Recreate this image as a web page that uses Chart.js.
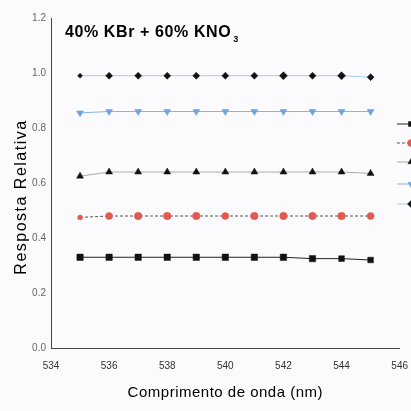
<!DOCTYPE html>
<html lang="pt-BR">
<head>
    <meta charset="UTF-8">
    <title>Resposta Relativa - 40% KBr + 60% KNO3</title>
    <style>
        html, body { margin: 0; padding: 0; background: #fbfbfd; overflow: hidden; }
    </style>
</head>
<body>
    <canvas id="grafico" width="411" height="411"></canvas>

    <script src="https://cdn.jsdelivr.net/npm/chart.js"></script>
    <script>
        // Comprimentos de onda (nm)
        const comprimentos = [535, 536, 537, 538, 539, 540, 541, 542, 543, 544, 545];

        // Respostas relativas de cada série
        const serieQuadrado = [0.33, 0.33, 0.33, 0.33, 0.33, 0.33, 0.33, 0.33, 0.325, 0.325, 0.32];
        const serieCirculo = [0.475, 0.48, 0.48, 0.48, 0.48, 0.48, 0.48, 0.48, 0.48, 0.48, 0.48];
        const serieTriangulo = [0.625, 0.64, 0.64, 0.64, 0.64, 0.64, 0.64, 0.64, 0.64, 0.64, 0.635];
        const serieTrianguloInv = [0.855, 0.86, 0.86, 0.86, 0.86, 0.86, 0.86, 0.86, 0.86, 0.86, 0.86];
        const serieLosango = [0.99, 0.99, 0.99, 0.99, 0.99, 0.99, 0.99, 0.99, 0.99, 0.99, 0.985];

        const ticksX = [534, 536, 538, 540, 542, 544, 546];
        const ticksY = [0.0, 0.2, 0.4, 0.6, 0.8, 1.0, 1.2];

        const fonte = '"Liberation Sans", Arial, sans-serif';

        function pontos(valores) {
            return valores.map((v, i) => ({ x: comprimentos[i], y: v }));
        }

        const series = [
            { dados: serieQuadrado, forma: 'rect', cor: '#111', linha: '#222', tam: [4.5, 4.5, 4.5, 4.5, 4.5, 4.5, 4.5, 4.5, 4.5, 4, 4], rot: 0, traco: [] },
            { dados: serieCirculo, forma: 'circle', cor: '#e05a52', linha: '#555', tam: [2.5, 3.5, 3.8, 3.8, 3.8, 3.5, 3.8, 3.8, 3.8, 3.8, 3.5], rot: 0, traco: [3, 2] },
            { dados: serieTriangulo, forma: 'triangle', cor: '#111', linha: '#aaa', tam: 4, rot: 0, traco: [] },
            { dados: serieTrianguloInv, forma: 'triangle', cor: '#6fa3e0', linha: '#8ab4e0', tam: 4, rot: 180, traco: [] },
            { dados: serieLosango, forma: 'rectRot', cor: '#111', linha: '#a8cde8', tam: [2.5, 3.5, 3.5, 3.5, 3.5, 3.5, 3.5, 4, 3.5, 4, 3.5], rot: 0, traco: [] }
        ];

        const datasets = series.map(s => ({
            data: pontos(s.dados),
            showLine: true,
            borderColor: s.linha,
            borderWidth: 1,
            borderDash: s.traco,
            pointStyle: s.forma,
            pointRotation: s.rot,
            pointRadius: s.tam,
            pointBackgroundColor: s.cor,
            pointBorderColor: s.cor,
            pointBorderWidth: 0.5,
            tension: 0
        }));

        // Textos: título interno (com subscrito) e títulos dos eixos
        const textosPlugin = {
            id: 'textos',
            afterDraw(chart) {
                const ctx = chart.ctx;
                const area = chart.chartArea;
                ctx.save();
                ctx.fillStyle = '#000';

                ctx.textBaseline = 'alphabetic';
                ctx.textAlign = 'left';
                ctx.font = 'bold 16px ' + fonte;
                ctx.letterSpacing = '0.6px';
                const texto = '40% KBr + 60% KNO';
                ctx.fillText(texto, 65, 37);
                const w = ctx.measureText(texto).width;
                ctx.font = 'bold 9px ' + fonte;
                ctx.fillText('3', 65 + w + 2, 42);

                ctx.textAlign = 'center';
                ctx.textBaseline = 'middle';
                ctx.font = '15px ' + fonte;
                ctx.letterSpacing = '0.5px';
                ctx.fillText('Comprimento de onda (nm)', (area.left + area.right) / 2, 393);

                ctx.translate(22, 197);
                ctx.rotate(-Math.PI / 2);
                ctx.font = '16px ' + fonte;
                ctx.letterSpacing = '1.5px';
                ctx.fillText('Resposta Relativa', 0, 0);
                ctx.restore();
            }
        };

        // Legenda à direita (parte fica fora do quadro)
        const legendaPlugin = {
            id: 'legendaLateral',
            afterDraw(chart) {
                const ctx = chart.ctx;
                const ys = [124, 143, 162, 184, 204];
                ctx.save();
                series.forEach((s, i) => {
                    ctx.strokeStyle = s.linha;
                    ctx.lineWidth = 1;
                    ctx.setLineDash(s.traco);
                    ctx.beginPath();
                    ctx.moveTo(397, ys[i]);
                    ctx.lineTo(424, ys[i]);
                    ctx.stroke();
                    ctx.setLineDash([]);
                    ctx.fillStyle = s.cor;
                    ctx.strokeStyle = s.cor;
                    ctx.lineWidth = 0.5;
                    Chart.helpers.drawPoint(ctx, { pointStyle: s.forma, rotation: s.rot, radius: 3.5, borderWidth: 0.5 }, 411, ys[i]);
                });
                ctx.restore();
            }
        };

        const ctx = document.getElementById('grafico').getContext('2d');
        new Chart(ctx, {
            type: 'scatter',
            data: { datasets },
            options: {
                responsive: false,
                animation: false,
                devicePixelRatio: 1,
                layout: { padding: { top: 18, right: 0, left: 0, bottom: 0 } },
                plugins: { legend: { display: false }, tooltip: { enabled: false } },
                scales: {
                    x: {
                        type: 'linear',
                        min: 534,
                        max: 546,
                        afterBuildTicks: scale => {
                            scale.ticks = [];
                            for (let v = 534; v <= 546; v++) scale.ticks.push({ value: v });
                        },
                        afterFit: scale => { scale.height = 63; },
                        grid: { display: false, drawTicks: true, tickLength: 3, tickColor: '#999' },
                        border: { color: '#444', width: 1 },
                        ticks: {
                            autoSkip: false,
                            maxRotation: 0,
                            padding: 3,
                            color: '#333',
                            font: { family: fonte, size: 10, lineHeight: 2.4 },
                            callback: v => ticksX.includes(v) ? String(v) : ''
                        }
                    },
                    y: {
                        min: 0,
                        max: 1.2,
                        afterBuildTicks: scale => {
                            scale.ticks = [];
                            for (let v = 0; v <= 12; v++) scale.ticks.push({ value: v / 10 });
                        },
                        afterFit: scale => { scale.width = 51; },
                        grid: { display: false, drawTicks: true, tickLength: 3, tickColor: '#999' },
                        border: { color: '#444', width: 1 },
                        ticks: {
                            autoSkip: false,
                            padding: 2,
                            color: '#666',
                            font: { family: fonte, size: 10 },
                            callback: v => {
                                const r = Math.round(v * 10) / 10;
                                return ticksY.some(t => Math.abs(t - r) < 1e-6) ? r.toFixed(1) : '';
                            }
                        }
                    }
                }
            },
            plugins: [textosPlugin, legendaPlugin]
        });
    </script>
</body>
</html>
